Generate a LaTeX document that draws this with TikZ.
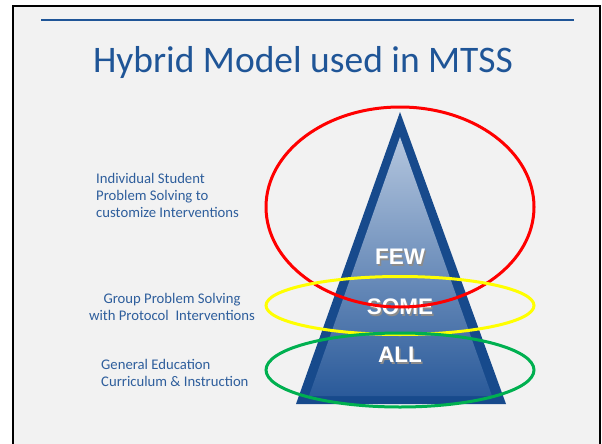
\documentclass[tikz,border=0pt]{standalone}
\usepackage{fontspec}
\setmainfont{Carlito}
\newfontfamily\boldsans{Liberation Sans}
\definecolor{slidebg}{HTML}{F2F2F2}
\definecolor{titleblue}{HTML}{1F5597}
\definecolor{textblue}{HTML}{2E5E9C}
\definecolor{pyrborder}{HTML}{174A8C}
\definecolor{pyrtop}{HTML}{B4C6DE}
\definecolor{pyrbot}{HTML}{2A5A9A}
\definecolor{ellred}{HTML}{FF0000}
\definecolor{ellyellow}{HTML}{FFFF00}
\definecolor{ellgreen}{HTML}{00B050}
\tikzset{
  x=1pt, y=-1pt,
  sidelabel/.style={text=textblue, font=\fontsize{14.7}{17}\selectfont, inner sep=0pt},
  tierlabel/.style={text=white, font=\boldsans\bfseries\fontsize{22.5}{22}\selectfont, inner sep=0pt},
  tiershadow/.style={text=black!45, font=\boldsans\bfseries\fontsize{22.5}{22}\selectfont, inner sep=0pt},
  ring/.style={line width=3pt, draw}
}
\begin{document}
\begin{tikzpicture}
\useasboundingbox (0,0) rectangle (602,444);
\fill[white] (0,0) rectangle (602,444);
% slide
\fill[slidebg] (13,6) rectangle (600,444);
\draw[line width=2.5pt, black] (13,446) -- (13,6) -- (600,6) -- (600,446);
\draw[line width=1.8pt, titleblue] (41,20) coordinate (rl) -- (574,20) coordinate (rr);
\node[text=titleblue, font=\fontsize{37.5}{40}\selectfont, inner sep=0pt] (title) at (303,63) {Hybrid Model used in MTSS};
% pyramid
\fill[pyrborder] (400,112) -- (506,404) -- (296,404) -- cycle;
\shade[top color=pyrtop, bottom color=pyrbot] (400,137) -- (492,396) -- (309,396) -- cycle;
\foreach \t/\y/\n in {FEW/257/few, SOME/307/some, ALL/355/all}{
  \node[tiershadow] at (401.5,\y+1.5) {\t};
  \node[tierlabel] (\n) at (400,\y) {\t};
}
% rings
\draw[ring, ellred] (400,207) ellipse [x radius=134, y radius=100];
\node[coordinate] (redc) at (400,207) {};
\draw[ring, ellyellow] (400,305.5) ellipse [x radius=134, y radius=29];
\draw[ring, ellgreen] (400,370) ellipse [x radius=134, y radius=37];
% side labels
\node[sidelabel, align=left, anchor=north west] (indiv) at (96,173) {Individual Student\\Problem Solving to\\customize Interventions};
\node[sidelabel, align=center] (group) at (172,307) {Group Problem Solving\\with Protocol\ \ Interventions};
\node[sidelabel, align=left, anchor=north west] (gened) at (101,359) {General Education\\Curriculum \& Instruction};
\end{tikzpicture}
\end{document}
